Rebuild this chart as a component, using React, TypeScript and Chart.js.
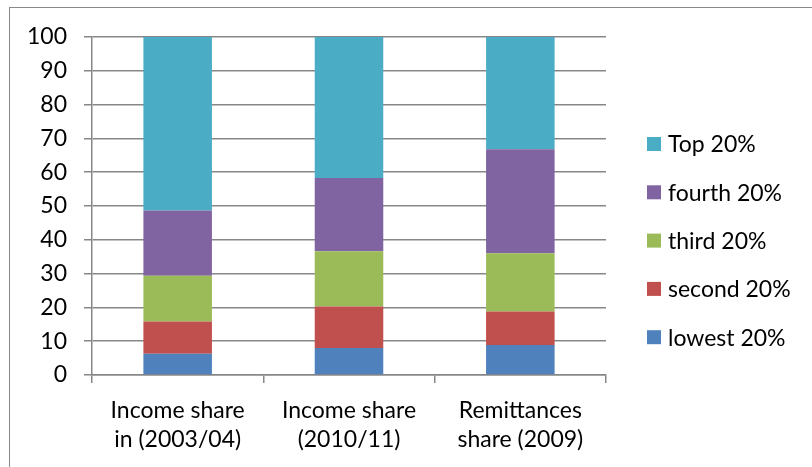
import React, { useEffect, useRef } from "react";
import { Chart, registerables } from "chart.js";

Chart.register(...registerables);

const categories: string[][] = [
  ["Income share", "in (2003/04)"],
  ["Income share", "(2010/11)"],
  ["Remittances", "share (2009)"],
];
const lowest = [6.3, 8.0, 8.9];
const second = [9.5, 12.3, 9.9];
const third = [13.6, 16.3, 17.2];
const fourth = [19.3, 21.7, 30.8];
const top20 = [51.3, 41.7, 33.2];
const seriesNames = ["lowest 20%", "second 20%", "third 20%", "fourth 20%", "Top 20%"];
const seriesColors = ["#4F81BD", "#C0504D", "#9BBB59", "#8064A2", "#4BACC6"];
const yTicks = { min: 0, max: 100, step: 10 };

const FONT = "Lato";
const FS = 23;
const GRID = "#878787";

const legendPlugin = {
  id: "sideLegend",
  afterDraw(chart: any) {
    const ctx = chart.ctx;
    const ds = chart.data.datasets;
    ctx.save();
    ctx.font = `${FS}px ${FONT}`;
    ctx.textBaseline = "middle";
    const n = ds.length;
    for (let i = 0; i < n; i++) {
      const d = ds[n - 1 - i];
      const cy = 144 + i * 48.3;
      ctx.fillStyle = d.backgroundColor;
      ctx.fillRect(647, cy - 7, 14, 14);
      ctx.fillStyle = "#000";
      ctx.fillText(d.label, 668, cy + 1);
    }
    ctx.restore();
  },
};

export default function App() {
  const ref = useRef<HTMLCanvasElement | null>(null);
  useEffect(() => {
    let chart: Chart | null = null;
    let cancelled = false;
    const make = () => {
      if (cancelled || !ref.current) return;
      const values = [lowest, second, third, fourth, top20];
      chart = new Chart(ref.current, {
        type: "bar",
        data: {
          labels: categories,
          datasets: values.map((v, i) => ({
            label: seriesNames[i],
            data: v,
            backgroundColor: seriesColors[i],
            borderWidth: 0,
            barPercentage: 0.4,
            categoryPercentage: 1,
          })),
        },
        options: {
          responsive: false,
          animation: false,
          devicePixelRatio: 1,
          layout: { padding: { top: 37, right: 206, left: 0, bottom: 0 } },
          plugins: { legend: { display: false }, tooltip: { enabled: false } },
          scales: {
            x: {
              stacked: true,
              offset: true,
              grid: {
                offset: true,
                drawOnChartArea: false,
                drawTicks: true,
                tickLength: 8,
                color: GRID,
                lineWidth: 1.5,
              },
              border: { display: true, color: GRID, width: 1.5 },
              ticks: {
                color: "#000",
                font: { family: FONT, size: FS, lineHeight: 1.27 },
                padding: 13,
                maxRotation: 0,
                autoSkip: false,
              },
              afterFit(scale: any) {
                scale.height = 92;
              },
            },
            y: {
              stacked: true,
              min: yTicks.min,
              max: yTicks.max,
              ticks: {
                stepSize: yTicks.step,
                color: "#000",
                font: { family: FONT, size: FS },
                padding: 17,
              },
              grid: { color: GRID, lineWidth: 1.5, tickLength: 8 },
              border: { display: true, color: GRID, width: 1.5 },
              afterFit(scale: any) {
                scale.width = 92;
              },
            },
          },
        },
        plugins: [legendPlugin],
      });
    };
    const p = (document as any).fonts ? (document as any).fonts.load(`${FS}px ${FONT}`) : Promise.resolve();
    p.then(make, make);
    return () => {
      cancelled = true;
      if (chart) chart.destroy();
    };
  }, []);
  return (
    <div style={{ position: "fixed", left: 0, top: 0, width: 812, height: 467, background: "#fff", overflow: "hidden" }}>
      <div
        style={{
          position: "absolute",
          left: 9,
          top: 7,
          width: 820,
          height: 480,
          border: "1.5px solid #8a8a8a",
          boxSizing: "border-box",
        }}
      />
      <canvas ref={ref} width={812} height={467} style={{ position: "absolute", left: 0, top: 0 }} />
    </div>
  );
}
